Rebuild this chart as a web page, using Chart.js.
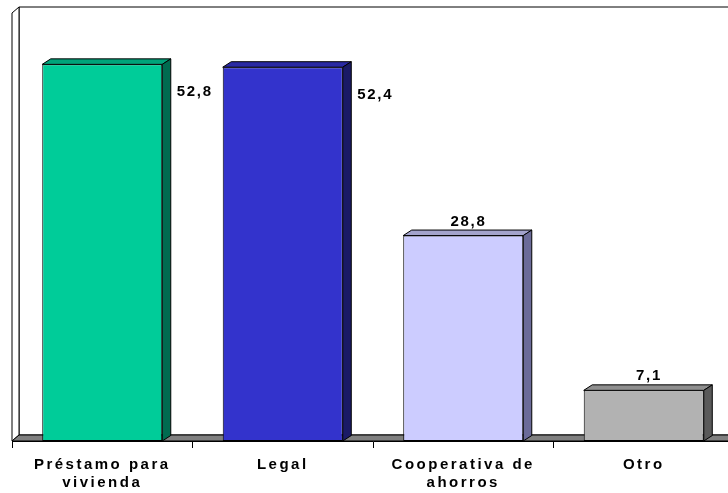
<!DOCTYPE html>
<html>
<head>
<meta charset="utf-8">
<script src="https://cdn.jsdelivr.net/npm/chart.js@4"></script>
<style>
  html, body { margin: 0; padding: 0; background: #fff; overflow: hidden; }
  #wrap { width: 740px; height: 493px; position: relative; }
</style>
</head>
<body>
<div id="wrap"><canvas id="myChart"></canvas></div>
<script>
// chart data
const categories = [['Préstamo para', 'vivienda'], 'Legal', ['Cooperativa de', 'ahorros'], 'Otro'];
const values = [52.8, 52.4, 28.8, 7.1];
const valueLabels = ['52,8', '52,4', '28,8', '7,1'];

// colours per bar: front, top, side
const frontColors = ['#00CC99', '#3333CC', '#CCCCFF', '#B2B2B2'];
const topColors = ['#00A37A', '#2929A3', '#A3A3CC', '#8F8F8F'];
const sideColors = ['#006B50', '#1A1A66', '#6B6B99', '#5A5A5A'];

const FONT = '"Liberation Sans", Arial, sans-serif';
const DX = 8.5, DY = -5.5;   // bar depth
const WX = 7, WY = -6;       // wall / floor depth

function poly(ctx, pts, fill, stroke) {
  ctx.beginPath();
  ctx.moveTo(pts[0][0], pts[0][1]);
  for (let i = 1; i < pts.length; i++) ctx.lineTo(pts[i][0], pts[i][1]);
  ctx.closePath();
  if (fill) { ctx.fillStyle = fill; ctx.fill(); }
  if (stroke) { ctx.strokeStyle = stroke; ctx.lineWidth = 1; ctx.stroke(); }
}

// walls and floor behind the bars, 3D faces and value labels on top
const wallsPlugin = {
  id: 'walls',
  beforeDraw(chart) {
    // spaced-out lettering like the original
    chart.ctx.letterSpacing = '2.5px';
  },
  beforeDatasetsDraw(chart) {
    const { ctx, chartArea: a } = chart;
    ctx.save();
    ctx.letterSpacing = '0px';
    // back wall
    poly(ctx, [[a.left + WX, a.top + WY], [a.right + WX, a.top + WY], [a.right + WX, a.bottom + WY], [a.left + WX, a.bottom + WY]], '#fff', '#000');
    // left wall
    poly(ctx, [[a.left, a.top], [a.left + WX, a.top + WY], [a.left + WX, a.bottom + WY], [a.left, a.bottom]], '#fff', '#000');
    // floor
    poly(ctx, [[a.left, a.bottom], [a.left + WX, a.bottom + WY], [a.right + WX, a.bottom + WY], [a.right, a.bottom]], '#808080', '#000');
    ctx.restore();
  },
  afterDatasetsDraw(chart) {
    const { ctx, chartArea: a } = chart;
    const meta = chart.getDatasetMeta(0);
    ctx.save();
    meta.data.forEach((bar, i) => {
      const x0 = bar.x - bar.width / 2, x1 = bar.x + bar.width / 2;
      const y = bar.y, b = bar.base;
      // top face
      poly(ctx, [[x0, y], [x0 + DX, y + DY], [x1 + DX, y + DY], [x1, y]], topColors[i], '#000');
      // side face
      poly(ctx, [[x1, y], [x1 + DX, y + DY], [x1 + DX, b + DY], [x1, b]], sideColors[i], '#000');

      // value label: above the bar, or beside it when the bar is too tall
      ctx.font = 'bold 15px ' + FONT;
      ctx.fillStyle = '#000';
      ctx.letterSpacing = '1.7px';
      ctx.textBaseline = 'alphabetic';
      if (y - 70 < a.top) {
        ctx.textAlign = 'left';
        ctx.fillText(valueLabels[i], x1 + DX + 6, y + 32);
      } else {
        ctx.textAlign = 'center';
        ctx.fillText(valueLabels[i], bar.x + DX / 2 + 1, y - 10);
      }
    });
    ctx.restore();
  }
};

const ctx = document.getElementById('myChart');
new Chart(ctx, {
  type: 'bar',
  data: {
    labels: categories,
    datasets: [{
      data: values,
      backgroundColor: frontColors,
      borderColor: '#000',
      borderWidth: 1,
      borderSkipped: false,
      barPercentage: 0.665,
      categoryPercentage: 1
    }]
  },
  options: {
    responsive: true,
    maintainAspectRatio: false,
    animation: false,
    events: [],
    layout: { padding: { top: 13, left: 12, right: 6, bottom: 0 } },
    plugins: {
      legend: { display: false },
      tooltip: { enabled: false },
      title: { display: false }
    },
    scales: {
      y: { display: false, min: 0, max: 60 },
      x: {
        offset: true,
        afterFit(scale) { scale.height = 52; },
        border: { display: true, color: '#000', width: 1 },
        grid: { offset: true, drawOnChartArea: false, drawTicks: true, tickLength: 7, color: '#000' },
        ticks: {
          autoSkip: false,
          maxRotation: 0,
          padding: 8,
          color: '#000',
          font: { family: FONT, size: 15, weight: 'bold', lineHeight: 18 / 15 }
        }
      }
    }
  },
  plugins: [wallsPlugin]
});
</script>
</body>
</html>
